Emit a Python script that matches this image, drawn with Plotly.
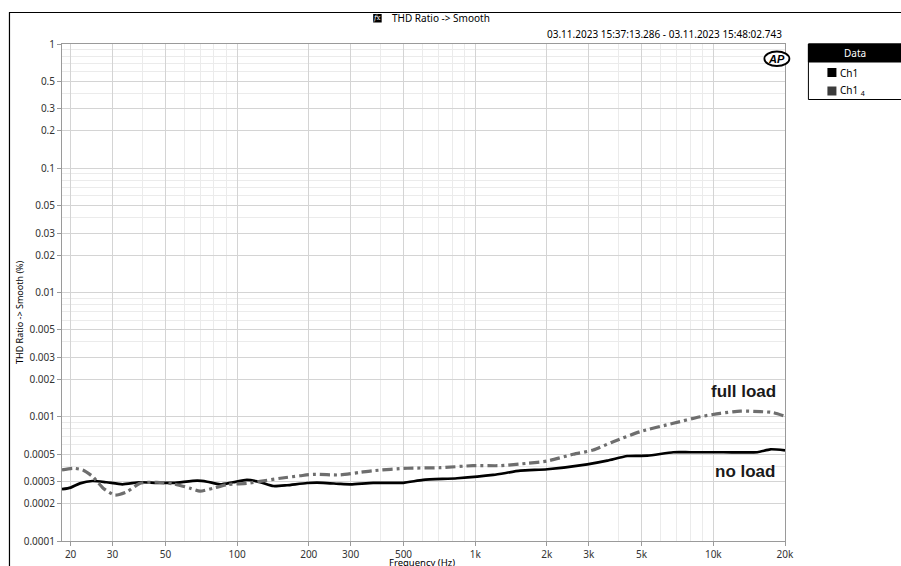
import math
import plotly.graph_objects as go

# THD ratio (%) versus frequency, two load conditions
freq_ch1 = [18.4, 20.0, 21.9, 24.7, 28.3, 33.0, 39.0, 46.1, 54.1, 68.1, 74.9, 84.8,
            96.2, 110, 125, 142, 162, 197, 230, 271, 300, 373, 498, 605, 840, 1190,
            1546, 2007, 2955, 3586, 4352, 5281, 6792, 8006, 11020, 15300, 17360, 20000]
thd_ch1 = [2.61e-4, 2.69e-4, 2.91e-4, 3.04e-4, 2.97e-4, 2.86e-4, 2.97e-4, 2.94e-4,
           2.94e-4, 3.06e-4, 3.00e-4, 2.86e-4, 2.97e-4, 3.10e-4, 2.98e-4, 2.77e-4,
           2.81e-4, 2.93e-4, 2.94e-4, 2.88e-4, 2.86e-4, 2.94e-4, 2.94e-4, 3.10e-4,
           3.20e-4, 3.40e-4, 3.68e-4, 3.78e-4, 4.14e-4, 4.43e-4, 4.83e-4, 4.86e-4,
           5.18e-4, 5.18e-4, 5.18e-4, 5.18e-4, 5.47e-4, 5.37e-4]

freq_ch1_4 = [18.4, 20.5, 22.5, 24.8, 27.4, 30.7, 34.5, 39.0, 46.1, 54.1, 63.5, 69.9,
              79.3, 90.8, 110, 125, 152, 184, 209, 271, 329, 373, 518, 713, 980,
              1273, 1654, 2007, 2581, 3132, 3800, 4935, 6792, 8819, 10700, 12985,
              15760, 17870, 20000]
thd_ch1_4 = [3.73e-4, 3.85e-4, 3.73e-4, 3.29e-4, 2.66e-4, 2.34e-4, 2.49e-4, 2.91e-4,
             2.97e-4, 2.88e-4, 2.66e-4, 2.52e-4, 2.66e-4, 2.84e-4, 2.91e-4, 3.02e-4,
             3.20e-4, 3.35e-4, 3.44e-4, 3.40e-4, 3.57e-4, 3.68e-4, 3.85e-4, 3.89e-4,
             4.04e-4, 4.04e-4, 4.22e-4, 4.40e-4, 4.99e-4, 5.40e-4, 6.30e-4, 7.59e-4,
             8.86e-4, 1.00e-3, 1.066e-3, 1.11e-3, 1.10e-3, 1.08e-3, 1.01e-3]

x_major = [20, 30, 50, 100, 200, 300, 500, 1000, 2000, 3000, 5000, 10000, 20000]
x_major_text = ["20", "30", "50", "100", "200", "300", "500", "1k", "2k", "3k", "5k", "10k", "20k"]
x_minor = [40, 60, 70, 80, 90, 400, 600, 700, 800, 900,
           4000, 6000, 7000, 8000, 9000]

y_major = [1, 0.5, 0.3, 0.2, 0.1, 0.05, 0.03, 0.02, 0.01, 0.005, 0.003, 0.002,
           0.001, 0.0005, 0.0003, 0.0002, 0.0001]
y_major_text = ["1", "0.5", "0.3", "0.2", "0.1", "0.05", "0.03", "0.02", "0.01",
                "0.005", "0.003", "0.002", "0.001", "0.0005", "0.0003", "0.0002", "0.0001"]
y_minor = [m * 10.0 ** e for e in (-4, -3, -2, -1) for m in (4, 6, 7, 8, 9)]

series_names = ["Ch1", "Ch1 <sub>4</sub>"]
series_colors = ["#000000", "#6e6e6e"]
legend_swatch = ["#000000", "#3c3c3c"]

W, H = 901, 566
L, R, T, B = 62, 784.6, 44, 541
PW, PH = R - L, B - T


def px(x):
    return (x - L) / PW


def py(y):
    return (B - y) / PH


FONT = "Noto Sans"

fig = go.Figure()
fig.add_trace(go.Scatter(
    x=freq_ch1, y=thd_ch1, name=series_names[0], mode="lines",
    line=dict(color=series_colors[0], width=2.7, shape="spline", smoothing=0.6),
))
fig.add_trace(go.Scatter(
    x=freq_ch1_4, y=thd_ch1_4, name=series_names[1], mode="lines",
    line=dict(color=series_colors[1], width=3.2, dash="10px,4px,3px,4px",
              shape="spline", smoothing=0.6),
))

axis_common = dict(
    type="log", showline=True, linecolor="#9a9a9a", linewidth=1, mirror=True,
    ticks="outside", ticklen=4, tickcolor="#9a9a9a", automargin=False,
    showgrid=True, gridcolor="#d4d4d4", gridwidth=1, zeroline=False,
    tickfont=dict(family=FONT, size=10, color="#333333"),
)

fig.update_xaxes(
    range=[math.log10(18.4), math.log10(20000)],
    tickmode="array", tickvals=x_major, ticktext=x_major_text,
    minor=dict(tickmode="array", tickvals=x_minor, showgrid=True,
               gridcolor="#ebebeb", ticks=""),
    **axis_common,
)
fig.update_yaxes(
    range=[-4, 0],
    tickmode="array", tickvals=y_major, ticktext=y_major_text,
    minor=dict(tickmode="array", tickvals=y_minor, showgrid=True,
               gridcolor="#ebebeb", ticks=""),
    **axis_common,
)

shapes = [
    # outer frame
    dict(type="line", xref="paper", yref="paper", x0=px(9), x1=px(W), y0=py(12.5), y1=py(12.5),
         line=dict(color="#000000", width=1.2)),
    dict(type="line", xref="paper", yref="paper", x0=px(9.5), x1=px(9.5), y0=py(12.5), y1=py(H + 5),
         line=dict(color="#000000", width=1.2)),
    # fx icon
    dict(type="rect", xref="paper", yref="paper", x0=px(373), x1=px(381.5), y0=py(14), y1=py(22.5),
         fillcolor="#000000", line=dict(width=0)),
    # AP badge
    dict(type="circle", xref="paper", yref="paper", x0=px(764), x1=px(789), y0=py(51.5), y1=py(66),
         line=dict(color="#000000", width=1.8), fillcolor="#ffffff"),
    # legend box
    dict(type="rect", xref="paper", yref="paper", x0=px(808), x1=px(W + 2), y0=py(44), y1=py(99.5),
         fillcolor="#ffffff", line=dict(color="#000000", width=1)),
    dict(type="rect", xref="paper", yref="paper", x0=px(808), x1=px(W + 2), y0=py(44), y1=py(62),
         fillcolor="#000000", line=dict(color="#000000", width=1)),
    dict(type="rect", xref="paper", yref="paper", x0=px(827), x1=px(836), y0=py(68), y1=py(77),
         fillcolor=legend_swatch[0], line=dict(width=0)),
    dict(type="rect", xref="paper", yref="paper", x0=px(827), x1=px(836), y0=py(86.5), y1=py(95.5),
         fillcolor=legend_swatch[1], line=dict(width=0)),
]

annotations = [
    dict(text="<i>f</i>x", x=px(377.3), y=py(18.3), font=dict(family="DejaVu Serif", size=7, color="#ffffff")),
    dict(text="THD Ratio -> Smooth", x=px(390), y=py(18.5), xanchor="left",
         font=dict(family=FONT, size=10, color="#000000")),
    dict(text="03.11.2023 15:37:13.286 - 03.11.2023 15:48:02.743", x=px(784), y=py(34),
         xanchor="right", font=dict(family=FONT, size=10, color="#000000")),
    dict(text="<b><i>AP</i></b>", x=px(776.5), y=py(58.8),
         font=dict(family="Liberation Sans", size=11, color="#000000")),
    dict(text="Data", x=px(855), y=py(53), font=dict(family=FONT, size=10, color="#ffffff")),
    dict(text=series_names[0], x=px(838), y=py(72.5), xanchor="left",
         font=dict(family=FONT, size=10, color="#000000")),
    dict(text=series_names[1], x=px(838), y=py(91), xanchor="left",
         font=dict(family=FONT, size=10, color="#000000")),
    dict(text="THD Ratio -> Smooth (%)", x=px(19), y=py(312), textangle=-90,
         font=dict(family=FONT, size=9, color="#000000")),
    dict(text="Frequency (Hz)", x=px(422), y=py(562),
         font=dict(family=FONT, size=9.5, color="#000000")),
    dict(text="<b>full load</b>", x=px(778), y=py(391.5), xanchor="right",
         font=dict(family="Liberation Sans", size=17, color="#1a1a1a")),
    dict(text="<b>no load</b>", x=px(777), y=py(471), xanchor="right",
         font=dict(family="Liberation Sans", size=17, color="#1a1a1a")),
]
for a in annotations:
    a.setdefault("xref", "paper")
    a.setdefault("yref", "paper")
    a.setdefault("showarrow", False)
    a.setdefault("xanchor", "center")
    a.setdefault("yanchor", "middle")

fig.update_layout(
    width=W, height=H, autosize=False,
    margin=dict(l=L, r=W - R, t=T, b=H - B, pad=0),
    paper_bgcolor="#ffffff", plot_bgcolor="#ffffff",
    showlegend=False,
    shapes=shapes, annotations=annotations,
    font=dict(family=FONT),
)

fig.write_html("out.html", config={"displayModeBar": False})
